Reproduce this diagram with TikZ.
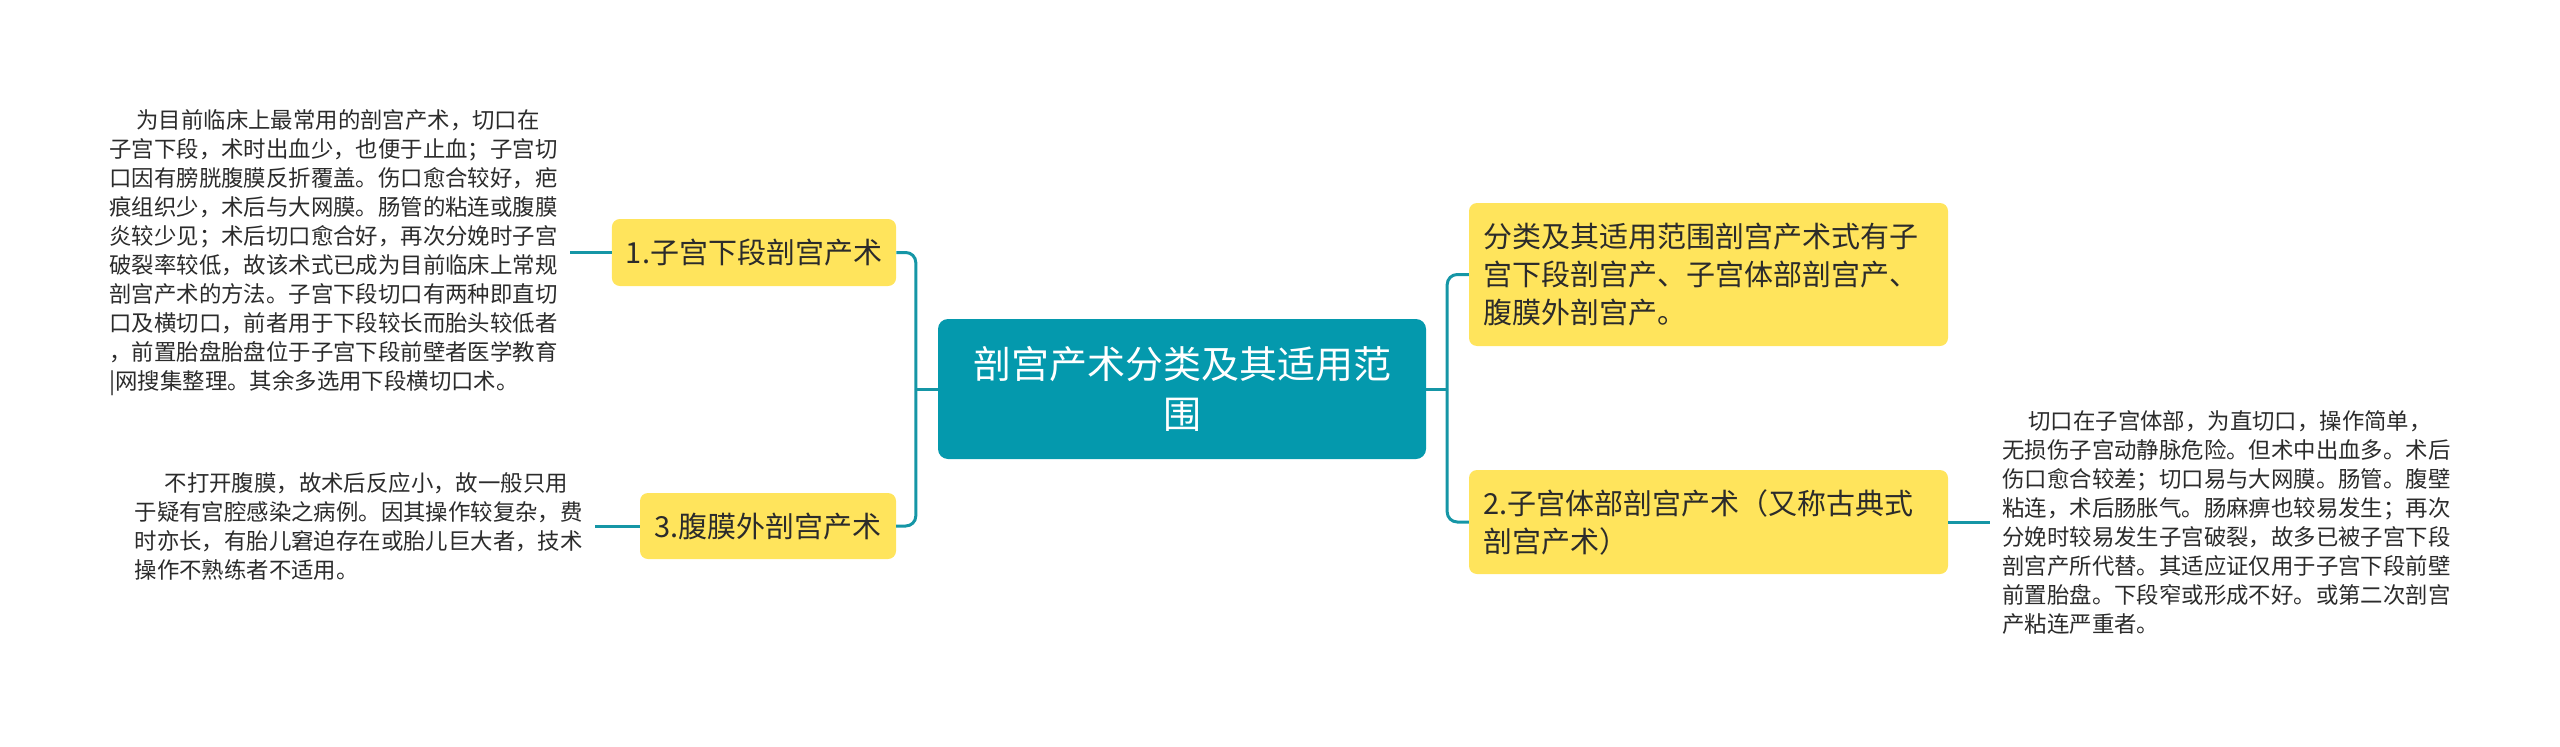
\documentclass[tikz,border=0pt]{standalone}
\usepackage{fontspec}
\setmainfont{Noto Sans CJK SC}
\definecolor{rootc}{HTML}{0499AD}
\definecolor{linec}{HTML}{1596A6}
\definecolor{subc}{HTML}{FFE45C}
\definecolor{textc}{HTML}{2B2B2B}
\begin{document}
\begin{tikzpicture}[x=1pt,y=-1pt,
  every node/.style={inner sep=0pt},
  line/.style={draw=linec,line width=3pt,rounded corners=10pt},
  sub/.style={fill=subc,rounded corners=8pt,text=textc,inner xsep=14pt,
    font=\fontsize{29pt}{38pt}\selectfont},
  note/.style={text=textc,align=left,inner xsep=12pt,
    font=\fontsize{22.4pt}{29pt}\selectfont}]
\useasboundingbox (0,0) rectangle (2560,747);
% main topic
\node[fill=rootc,rounded corners=10pt,text=white,align=center,minimum width=488pt,minimum height=140pt,
  font=\fontsize{38pt}{50pt}\selectfont] (root) at (1182,389) {剖宫产术分类及其适用范\\围};
% branches
\node[sub,minimum width=284pt,minimum height=67pt] (sub1) at (754,252.5) {1.子宫下段剖宫产术};
\node[sub,minimum width=256pt,minimum height=66pt] (sub3) at (768,526) {3.腹膜外剖宫产术};
\node[sub,text width=451pt,align=left,minimum height=143pt] (sub0) at (1708.5,274.5)
  {分类及其适用范围剖宫产术式有子\\宫下段剖宫产、子宫体部剖宫产、\\腹膜外剖宫产。};
\node[sub,text width=451pt,align=left,minimum height=104pt] (sub2) at (1708.5,522)
  {2.子宫体部剖宫产术（又称古典式\\剖宫产术）};
% notes
\node[note,anchor=east,xshift=-42pt] (note1) at (sub1.west)
  {\hspace*{27pt}为目前临床上最常用的剖宫产术，切口在\\
   子宫下段，术时出血少，也便于止血；子宫切\\
   口因有膀胱腹膜反折覆盖。伤口愈合较好，疤\\
   痕组织少，术后与大网膜。肠管的粘连或腹膜\\
   炎较少见；术后切口愈合好，再次分娩时子宫\\
   破裂率较低，故该术式已成为目前临床上常规\\
   剖宫产术的方法。子宫下段切口有两种即直切\\
   口及横切口，前者用于下段较长而胎头较低者\\
   ，前置胎盘胎盘位于子宫下段前壁者医学教育\\
   |网搜集整理。其余多选用下段横切口术。};
\node[note,anchor=east,xshift=-45pt] (note3) at (sub3.west)
  {\hspace*{30pt}不打开腹膜，故术后反应小，故一般只用\\
   于疑有宫腔感染之病例。因其操作较复杂，费\\
   时亦长，有胎儿窘迫存在或胎儿巨大者，技术\\
   操作不熟练者不适用。};
\node[note,anchor=west,xshift=42pt] (note2) at (sub2.east)
  {\hspace*{26pt}切口在子宫体部，为直切口，操作简单，\\
   无损伤子宫动静脉危险。但术中出血多。术后\\
   伤口愈合较差；切口易与大网膜。肠管。腹壁\\
   粘连，术后肠胀气。肠麻痹也较易发生；再次\\
   分娩时较易发生子宫破裂，故多已被子宫下段\\
   剖宫产所代替。其适应证仅用于子宫下段前壁\\
   前置胎盘。下段窄或形成不好。或第二次剖宫\\
   产粘连严重者。};
% connectors
\coordinate (jl) at ([xshift=-22pt]root.west);
\coordinate (jr) at ([xshift=21pt]root.east);
\draw[line] (root.west) -- (jl);
\draw[line] (jl) |- (sub1.east);
\draw[line] (jl) |- (sub3.east);
\draw[line] (root.east) -- (jr);
\draw[line] (jr) |- (sub0.west);
\draw[line] (jr) |- (sub2.west);
\draw[line] (sub1.west) -- (note1.east);
\draw[line] (sub3.west) -- (note3.east);
\draw[line] (sub2.east) -- (note2.west);
\end{tikzpicture}
\end{document}
